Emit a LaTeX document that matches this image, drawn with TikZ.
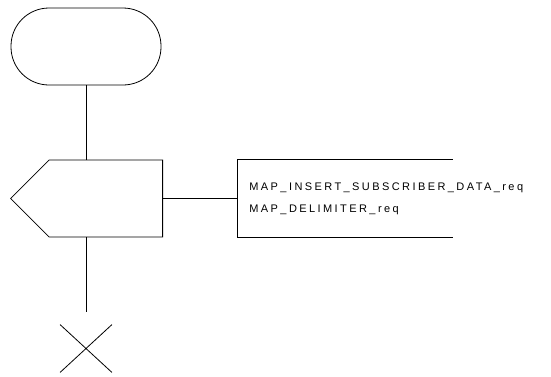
\documentclass[tikz,border=0pt]{standalone}
\usepackage{fontspec}
\setmainfont{Liberation Sans}
\newfontfamily\sigfont[LetterSpace=22]{Liberation Sans}
\usetikzlibrary{positioning,shapes.symbols,shapes.misc}

\begin{document}
\begin{tikzpicture}[x=1pt, y=-1pt,
    line width=0.8pt,
    startbox/.style={draw, rectangle, rounded corners=38pt, minimum width=150pt, minimum height=77pt},
    outsig/.style={draw, signal, signal to=west, signal pointer angle=90, minimum width=152pt, minimum height=77pt, inner sep=0pt},
    msgbox/.style={inner xsep=12pt, inner ysep=0pt, text width=191pt, minimum height=77pt, align=left, font=\sigfont\fontsize{11}{22}\selectfont},
    stopmark/.style={draw, cross out, minimum width=51pt, minimum height=47pt, inner sep=0pt}
]
    \useasboundingbox (0,0) rectangle (551,376);

    % Process start, output and stop
    \node[startbox] (start) at (86,46.5) {};
    \node[outsig, anchor=east] (insert) at (163,198.5) {};
    \node[msgbox, anchor=west] (msg) at (237,198.5) {MAP\_INSERT\_SUBSCRIBER\_DATA\_req\\MAP\_DELIMITER\_req};
    \node[stopmark] (stop) at (86,348.5) {};

    % Connections
    \draw (start) -- (start |- insert.north);
    \draw (insert.east) -- (msg.west);
    \draw (msg.north east) -- (msg.north west) -- (msg.south west) -- (msg.south east);
    \draw (insert.south -| stop) -- ([yshift=13pt]stop.north);
\end{tikzpicture}
\end{document}
